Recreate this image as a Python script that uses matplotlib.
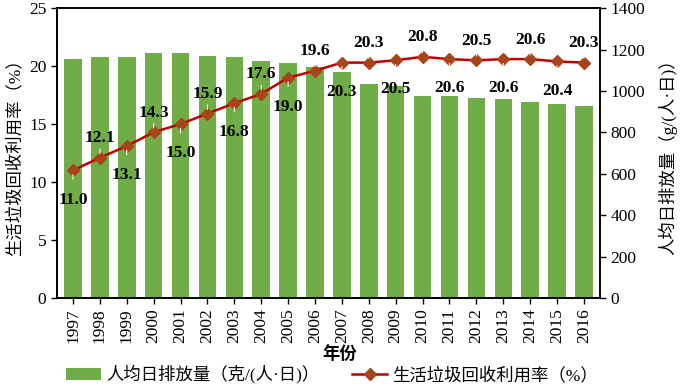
import matplotlib
matplotlib.use("Agg")
import matplotlib.pyplot as plt
import numpy as np

years = ["1997", "1998", "1999", "2000", "2001", "2002", "2003", "2004", "2005", "2006",
         "2007", "2008", "2009", "2010", "2011", "2012", "2013", "2014", "2015", "2016"]
per_capita = [1152, 1162, 1162, 1185, 1181, 1170, 1165, 1146, 1135, 1115,
              1092, 1032, 1024, 977, 977, 966, 959, 946, 938, 927]
recycle_rate = [11.0, 12.1, 13.1, 14.3, 15.0, 15.9, 16.8, 17.6, 19.0, 19.6,
                20.3, 20.3, 20.5, 20.8, 20.6, 20.5, 20.6, 20.6, 20.4, 20.3]
left_ticks = [0, 5, 10, 15, 20, 25]
right_ticks = [0, 200, 400, 600, 800, 1000, 1200, 1400]

FAM = ["Liberation Serif", "Noto Sans CJK SC"]
plt.rcParams['font.family'] = FAM

fig = plt.figure(figsize=(6.85, 3.86), dpi=100)
ax = fig.add_axes([0.083, 0.228, 0.793, 0.751])
ax2 = ax.twinx()

x = np.arange(len(years))
bars = ax2.bar(x, per_capita, width=0.65, color="#70AD47", zorder=1,
               label="人均日排放量（克/(人·日)）")
ax2.set_ylim(0, 1400)
ax2.set_yticks(right_ticks)
ax2.set_ylabel("人均日排放量（g/(人·日)）", fontsize=12.5, labelpad=9)

ax.set_zorder(ax2.get_zorder() + 1)
ax.patch.set_visible(False)
line, = ax.plot(x, recycle_rate, color="#C00000", lw=1.8, marker="D", markersize=6.5,
                markerfacecolor="#A9441A", markeredgecolor="#A9441A", zorder=3,
                label="生活垃圾回收利用率（%）")
ax.set_ylim(0, 25)
ax.set_yticks(left_ticks)
ax.set_xlim(-0.6, len(years) - 0.4)
ax.set_xticks(x)
ax.set_xticklabels(years, rotation=90)
ax.set_ylabel("生活垃圾回收利用率（%）", fontsize=12.5, labelpad=4)
ax.set_xlabel("年份", fontsize=12.5, fontweight="bold")
ax.xaxis.set_label_coords(0.52, -0.17)

for a in (ax, ax2):
    a.tick_params(labelsize=12.5, direction="out", length=4, width=1)
    for s in a.spines.values():
        s.set_linewidth(1.2)

for i, v in enumerate(recycle_rate):
    if i % 2 == 0:
        off = -21
    else:
        off = 14
    ax.annotate(f"{v:.1f}", xy=(x[i], v), xytext=(0, off), textcoords="offset points",
                ha="center", va="center", fontsize=12.5, fontweight="bold",
                fontfamily="Liberation Serif", zorder=4,
                arrowprops=dict(arrowstyle="-", color="white", lw=0.8,
                                shrinkA=7, shrinkB=3))

handles = [bars, line]
labels = [h.get_label() for h in handles]
fig.legend(handles, labels, loc="lower center", bbox_to_anchor=(0.485, -0.035), ncol=2,
           frameon=False, fontsize=12.5, handlelength=2.0, columnspacing=1.9,
           handletextpad=0.3)

fig.savefig("out.png", dpi=100)
